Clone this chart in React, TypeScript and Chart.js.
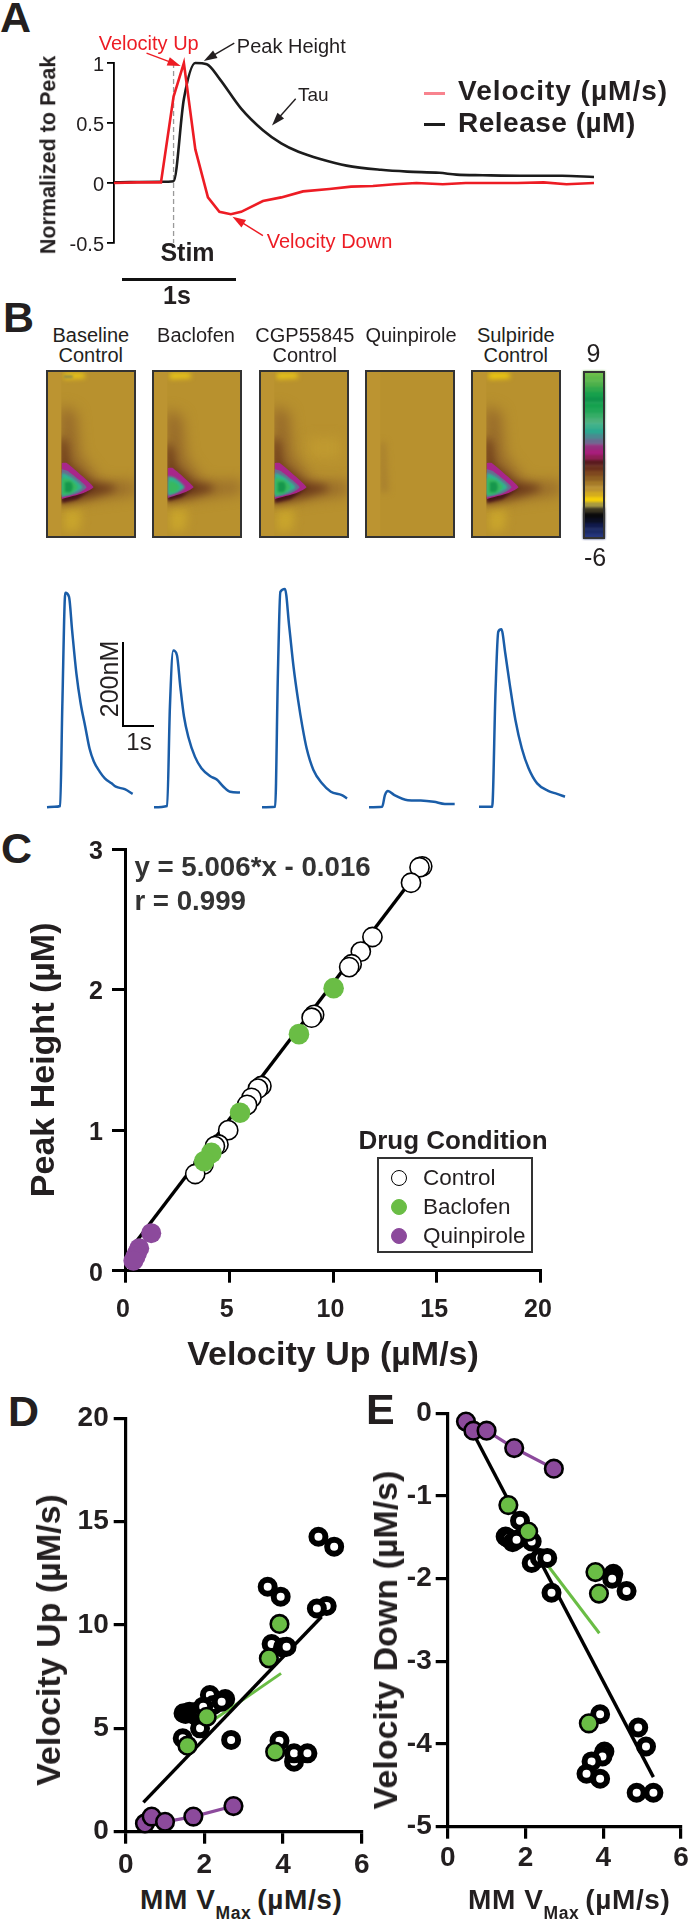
import React, { useEffect, useRef } from "react";
import { Chart, registerables } from "chart.js";

const FONT = '"Liberation Sans", Arial, sans-serif';
const INK = "#231f20";
const RED = "#ed1c24";
const PINK = "#f8838e";
const GREEN = "#6abd45";
const PURPLE = "#8c4a9c";
const BLUE = "#1a5da8";

/* ---------- Panel A ---------- */
const velocityTime = [0, 0.2, 0.41, 0.52, 0.61, 0.71, 0.82, 0.92, 1.02, 1.11, 1.3, 1.46, 1.65, 1.88, 2.07, 2.26, 2.45, 2.64, 2.87, 3.07, 3.52, 3.75, 3.95, 4.19];
const velocityValues = [0, 0.005, 0.005, 0.72, 1, 0.28, -0.12, -0.24, -0.26, -0.24, -0.15, -0.12, -0.07, -0.05, -0.03, -0.025, -0.01, 0, -0.01, 0, 0, 0.005, -0.01, 0];
const releaseTime = [0, 0.41, 0.52, 0.61, 0.71, 0.81, 0.92, 1.11, 1.3, 1.46, 1.61, 1.8, 2.03, 2.33, 2.56, 2.84, 2.99, 3.22, 3.6, 3.91, 4.19];
const releaseValues = [0.005, 0.01, 0.015, 0.7, 1, 0.99, 0.87, 0.62, 0.44, 0.33, 0.26, 0.2, 0.145, 0.11, 0.095, 0.085, 0.07, 0.065, 0.06, 0.06, 0.05];
const stimTime = [0.52, 0.52];
const stimRange = [1, -0.5];
const arrowsA = [
  { from: [0.284, 1.083], to: [0.582, 0.975], color: RED },
  { from: [1.05, 1.165], to: [0.784, 1.017], color: INK },
  { from: [1.586, 0.702], to: [1.379, 0.479], color: INK },
  { from: [1.3, -0.438], to: [1.034, -0.281], color: RED },
];

/* ---------- Panel B: heat maps ---------- */
const heatFull = [[0, 0], [91, 0], [91, 168], [0, 168]];
const heatStrip = [[0, 0], [15.5, 0], [15.5, 168], [0, 168]];
const topGlow = [[18, 3], [38, 3], [40, 8], [18, 9]];
const topSpot = [[18, 5.5], [27, 5.5], [27, 8], [18, 8]];
const bottomGlow = [[18, 138], [36, 138], [34, 160], [18, 162]];
const rightGlow = [[50, 68], [82, 68], [82, 88], [50, 88]];
const faintBand = [[15, 72], [21, 72], [24, 122], [15, 122]];
const hazeLarge = [[14, 36], [30, 42], [34, 85], [55, 112], [91, 112], [91, 124], [55, 128], [14, 134]];
const shadeLarge = [[14, 66], [21, 72], [24, 94], [46, 112], [70, 116], [70, 120], [46, 127], [14, 134]];
const maroonLarge = [[16, 124], [38, 122], [50, 117], [32, 129], [16, 133]];
const purpleLarge = [[16, 93], [21, 93], [48, 117], [38, 123], [16, 129]];
const slateLarge = [[16, 99], [22, 101], [41, 117], [33, 123], [16, 127.5]];
const tealLarge = [[16, 103], [24, 106], [37, 117], [30, 122], [16, 126]];
const greenLarge = [[16, 108], [25, 110], [32, 117], [26, 123], [16, 125]];
const coreLarge = [[19, 112], [25, 112], [27, 117], [25, 122], [19, 122]];
const hazeSmall = [[14, 40], [30, 46], [34, 88], [52, 112], [91, 112], [91, 122], [52, 127], [14, 132]];
const shadeSmall = [[14, 72], [21, 78], [24, 96], [42, 112], [62, 116], [62, 120], [42, 126], [14, 132]];
const maroonSmall = [[16, 124], [34, 122], [44, 117], [30, 127], [16, 131]];
const purpleSmall = [[16, 98], [21, 98], [42, 117], [34, 122], [16, 128]];
const tealSmall = [[16, 106], [23, 108], [33, 117], [27, 122], [16, 126]];
const greenSmall = [[17, 111], [23, 112], [28, 117], [24, 122], [17, 123]];

const heatLabels = [["Baseline", "Control"], ["Baclofen"], ["CGP55845", "Control"], ["Quinpirole"], ["Sulpiride", "Control"]];
const heatLeft = [46, 152.2, 258.8, 364.9, 471];
const heatCenters = [90.8, 196, 304.8, 411, 515.8];

const colorbarColors = ["#6cbf4a", "#5db94a", "#4db04a", "#2fa84c", "#17a04c", "#0f944a", "#15a14e", "#20a657", "#35ad66", "#4ab07a", "#3db08a", "#2ca890", "#4a8a90", "#6a6a90", "#96307f", "#a81e7c", "#8f1e55", "#5a1a1e", "#6a2f1c", "#7f481f", "#8e5f22", "#a67a28", "#bc9230", "#d4ac1e", "#f5cf08", "#a89a40", "#3a3520", "#0a0a0c", "#0b0f22", "#101a4c", "#1b2a66", "#25367e"];
const colorbarLevels = ["9", "8.5", "8", "7.5", "7", "6.5", "6", "5.5", "5", "4.5", "4", "3.5", "3", "2.5", "2", "1.5", "1", "0.5", "0", "-0.5", "-1", "-1.5", "-2", "-2.5", "-3", "-3.5", "-4", "-4.5", "-5", "-5.25", "-5.5", "-6"];

/* ---------- Panel B: release traces (s, nM) ---------- */
const traceTimes = [
  [0, 0.24, 0.43, 0.5, 0.6, 0.72, 0.82, 0.96, 1.1, 1.25, 1.39, 1.53, 1.72, 1.89, 2.11, 2.25, 2.54, 2.8],
  [0, 0.43, 0.52, 0.63, 0.75, 0.86, 0.98, 1.12, 1.34, 1.55, 1.84, 2.05, 2.27, 2.49, 2.81],
  [0, 0.43, 0.52, 0.6, 0.75, 0.89, 1.03, 1.18, 1.32, 1.46, 1.68, 1.96, 2.25, 2.61, 2.78],
  [0, 0.43, 0.52, 0.62, 0.83, 1.27, 1.69, 2.12, 2.48, 2.8],
  [0, 0.43, 0.54, 0.63, 0.73, 0.86, 1.0, 1.19, 1.4, 1.62, 1.9, 2.26, 2.55, 2.81],
];
const traceValues = [
  [1, 2, 4, 240, 512, 502, 423, 320, 248, 193, 141, 110, 86, 70, 58, 50, 44, 33],
  [1, 4, 240, 374, 363, 288, 217, 169, 121, 94, 75, 67, 50, 38, 36],
  [1, 2, 320, 514, 521, 431, 336, 256, 193, 141, 90, 58, 38, 30, 22],
  [1, 2, 30, 40, 30, 18, 17, 14, 9, 9],
  [2, 2, 278, 419, 425, 367, 296, 209, 141, 94, 58, 40, 33, 26],
];
const traceLeft = [47.4, 154.4, 262.3, 369.3, 479];

/* ---------- Panel C ---------- */
const controlUpC = [14.3, 14.17, 13.76, 11.9, 11.34, 10.9, 10.78, 9.09, 8.97, 6.55, 6.38, 6.07, 5.86, 4.95, 4.48, 4.31, 3.76, 3.36];
const controlPeakC = [2.877, 2.87, 2.76, 2.374, 2.27, 2.18, 2.16, 1.82, 1.8, 1.314, 1.295, 1.23, 1.18, 1.0, 0.898, 0.886, 0.755, 0.688];
const baclofenUpC = [10.03, 8.36, 5.52, 4.14, 3.79];
const baclofenPeakC = [2.01, 1.683, 1.124, 0.838, 0.779];
const quinpiroleUpC = [1.24, 0.66, 0.55, 0.48, 0.38];
const quinpirolePeakC = [0.267, 0.16, 0.124, 0.1, 0.071];
const fitUpC = [0.4, 14.2];
const fitPeakC = [0.184, 2.86];

/* ---------- Panel D ---------- */
const controlVmaxD = [4.9, 5.3, 3.61, 3.94, 5.11, 4.86, 3.71, 4.0, 4.09, 2.68, 3.91, 4.28, 4.28, 4.62, 1.45, 1.89, 1.47, 1.52, 1.59, 1.62, 1.7, 1.75, 1.81, 1.9, 2.14, 2.53, 2.23, 2.44, 1.97];
const controlUpD = [14.27, 13.79, 11.85, 11.37, 10.92, 10.8, 9.08, 8.92, 8.95, 4.44, 4.4, 3.39, 3.79, 3.79, 4.52, 5.0, 5.73, 5.7, 5.76, 5.8, 5.76, 5.65, 5.8, 5.8, 6.61, 6.42, 6.13, 6.29, 6.05];
const baclofenVmaxD = [3.91, 3.64, 2.06, 1.57, 3.8];
const baclofenUpD = [10.05, 8.39, 5.56, 4.16, 3.87];
const quinpiroleVmaxD = [0.49, 0.66, 1.0, 1.72, 2.74];
const quinpiroleUpD = [0.4, 0.73, 0.48, 0.73, 1.24];
const fitControlVmaxD = [0.45, 4.98];
const fitControlUpD = [1.42, 10.4];
const fitBaclofenVmaxD = [1.8, 3.95];
const fitBaclofenUpD = [4.84, 7.66];

/* ---------- Panel E ---------- */
const controlVmaxE = [1.86, 1.49, 1.56, 1.67, 1.77, 2.16, 2.16, 2.37, 2.56, 2.67, 4.26, 4.23, 4.6, 3.92, 4.9, 5.1, 4.03, 3.98, 3.7, 3.57, 3.92, 4.86, 5.29];
const controlDownE = [-1.3, -1.49, -1.51, -1.56, -1.53, -1.55, -1.81, -1.75, -1.75, -2.17, -1.94, -2.0, -2.15, -3.64, -3.8, -4.03, -4.09, -4.15, -4.21, -4.36, -4.42, -4.59, -4.59];
const baclofenVmaxE = [1.56, 2.07, 3.8, 3.89, 3.63];
const baclofenDownE = [-1.11, -1.43, -1.92, -2.18, -3.75];
const quinpiroleVmaxE = [0.47, 0.66, 1.0, 1.71, 2.73];
const quinpiroleDownE = [-0.1, -0.21, -0.21, -0.42, -0.67];
const fitControlVmaxE = [0.7, 5.29];
const fitControlDownE = [-0.28, -4.4];
const fitBaclofenVmaxE = [2.59, 3.9];
const fitBaclofenDownE = [-1.85, -2.66];

/* ---------- helpers ---------- */
const heatBlur = {
  id: "heatBlur",
  beforeDatasetDraw(chart: any, args: any) {
    const blur = chart.data.datasets[args.index]?.heatBlur;
    if (blur) {
      chart.ctx.save();
      chart.ctx.filter = `blur(${blur}px)`;
    }
  },
  afterDatasetDraw(chart: any, args: any) {
    if (chart.data.datasets[args.index]?.heatBlur) chart.ctx.restore();
  },
};
Chart.register(heatBlur, ...registerables);

const zip = (xs: number[], ys: number[]) => xs.map((x, i) => ({ x, y: ys[i] }));

type Box = { x: number; y: number; w: number; h: number };
type Area = { left: number; top: number; right: number; bottom: number };

const dropPadding = (s: any) => {
  s.paddingLeft = 0;
  s.paddingRight = 0;
  s.paddingTop = 0;
  s.paddingBottom = 0;
};

function pin(config: any, box: Box, area: Area) {
  const sc = config.options.scales;
  const showX = sc.x.display !== false;
  const showY = sc.y.display !== false;
  if (showX) sc.x.afterFit = (s: any) => { s.height = box.y + box.h - area.bottom; dropPadding(s); };
  if (showY) sc.y.afterFit = (s: any) => { s.width = area.left - box.x; dropPadding(s); };
  config.options.layout = {
    padding: {
      left: showY ? 0 : area.left - box.x,
      top: area.top - box.y,
      right: box.x + box.w - area.right,
      bottom: showX ? 0 : box.y + box.h - area.bottom,
    },
  };
  config.options.responsive = false;
  config.options.animation = false;
  config.options.devicePixelRatio = 1;
  config.options.events = [];
  config.options.plugins = { legend: { display: false }, tooltip: { enabled: false }, ...(config.options.plugins || {}) };
  return config;
}

function axis(min: number, max: number, step: number, size: number, weight: any, border: number, tick: number, pad: number, extra: any = {}, labelOffset = 0) {
  return {
    type: "linear",
    min,
    max,
    ticks: {
      stepSize: step,
      autoSkip: false,
      maxRotation: 0,
      padding: pad,
      labelOffset,
      color: INK,
      font: { family: FONT, size, weight },
      callback: (v: number) => String(v),
    },
    grid: { drawOnChartArea: false, drawTicks: true, tickLength: tick, tickWidth: border, tickColor: "#000", lineWidth: border, color: "#000" },
    border: { color: "#000", width: border },
    ...extra,
  };
}

function hidden(min: number, max: number, reverse = false) {
  return { type: "linear", display: false, min, max, reverse };
}

function lineSet(xs: number[], ys: number[], color: string, width: number, extra: any = {}) {
  return { type: "scatter", showLine: true, data: zip(xs, ys), borderColor: color, backgroundColor: color, borderWidth: width, pointRadius: 0, clip: false, tension: 0, ...extra };
}
function markerSet(xs: number[], ys: number[], fill: string, stroke: string, strokeWidth: number, radius: number) {
  return { type: "scatter", data: zip(xs, ys), backgroundColor: fill, borderColor: stroke, borderWidth: strokeWidth, pointRadius: radius, clip: false };
}

function ChartCanvas({ box, make, extra = {} }: { box: Box; make: () => any; extra?: any }) {
  const ref = useRef<HTMLCanvasElement | null>(null);
  useEffect(() => {
    const chart = new Chart(ref.current as HTMLCanvasElement, make());
    return () => chart.destroy();
  }, []);
  return <canvas ref={ref} width={box.w} height={box.h} style={{ position: "absolute", left: box.x, top: box.y, width: box.w, height: box.h, ...extra }} />;
}

function Txt({ x, y, size, bold, color = INK, center, rot, spacing = 0, children }: any) {
  return (
    <div
      style={{
        position: "absolute",
        left: x,
        top: y,
        fontFamily: FONT,
        fontSize: size,
        fontWeight: bold ? 700 : 400,
        color,
        lineHeight: 1,
        letterSpacing: spacing,
        whiteSpace: "nowrap",
        transform: `translate(${center || rot ? "-50%" : "0"},-50%)${rot ? " rotate(-90deg)" : ""}`,
      }}
    >
      {children}
    </div>
  );
}
function Rect({ x, y, w, h, color = "#000", extra = {} }: any) {
  return <div style={{ position: "absolute", left: x, top: y, width: w, height: h, background: color, ...extra }} />;
}

/* ---------- chart configs ---------- */
const boxA: Box = { x: 60, y: 30, w: 560, h: 240 };
const areaA: Area = { left: 114, top: 63, right: 594, bottom: 243 };
function configA() {
  const arrowPlugin = {
    id: "arrowsA",
    afterDatasetsDraw(chart: any) {
      const { ctx, scales } = chart;
      ctx.save();
      for (const a of arrowsA) {
        const x1 = scales.x.getPixelForValue(a.from[0]);
        const y1 = scales.y.getPixelForValue(a.from[1]);
        const x2 = scales.x.getPixelForValue(a.to[0]);
        const y2 = scales.y.getPixelForValue(a.to[1]);
        const ang = Math.atan2(y2 - y1, x2 - x1);
        ctx.strokeStyle = a.color;
        ctx.fillStyle = a.color;
        ctx.lineWidth = 1.4;
        ctx.beginPath();
        ctx.moveTo(x1, y1);
        ctx.lineTo(x2 - 8 * Math.cos(ang), y2 - 8 * Math.sin(ang));
        ctx.stroke();
        ctx.beginPath();
        ctx.moveTo(x2, y2);
        ctx.lineTo(x2 - 14 * Math.cos(ang - 0.32), y2 - 14 * Math.sin(ang - 0.32));
        ctx.lineTo(x2 - 14 * Math.cos(ang + 0.32), y2 - 14 * Math.sin(ang + 0.32));
        ctx.closePath();
        ctx.fill();
      }
      ctx.restore();
    },
  };
  return pin(
    {
      type: "scatter",
      data: {
        datasets: [
          lineSet(velocityTime, velocityValues, RED, 2.6),
          lineSet(releaseTime, releaseValues, "#1c1c1c", 2.6, { cubicInterpolationMode: "monotone" }),
          lineSet(stimTime, stimRange, "#9a9a9a", 1.3, { borderDash: [5, 3] }),
        ],
      },
      plugins: [arrowPlugin],
      options: {
        scales: {
          x: hidden(0, 4.19),
          y: axis(-0.5, 1, 0.5, 20, 400, 1.8, 7, 3, {}, 2),
        },
      },
    },
    boxA,
    areaA
  );
}

const heatColors = { base: "#b8912e", strip: "#bc9431" };
function heatLayer(points: number[][], color: string, blur = 0, tension = 0) {
  return { type: "line", parsing: true, data: points.map(([x, y]) => ({ x, y })), fill: "shape", backgroundColor: color, borderWidth: 0, borderColor: "transparent", pointRadius: 0, tension, clip: false, heatBlur: blur };
}
function heatLayersFor(i: number) {
  const layers: any[] = [heatLayer(heatFull, heatColors.base)];
  if (i === 3) {
    layers.push(heatLayer(faintBand, "#a9812e", 3));
    return layers;
  }
  layers.push(heatLayer(topGlow, i === 4 ? "#f3d00c" : "#ebc818", 2.5));
  if (i === 0) layers.push(heatLayer(topSpot, "#8d8a4a", 1));
  layers.push(heatLayer(bottomGlow, "#c9a52c", 5));
  if (i === 2) layers.push(heatLayer(rightGlow, "#c09a30", 6));
  const small = i === 1;
  layers.push(heatLayer(small ? hazeSmall : hazeLarge, "#96692a", 7));
  layers.push(heatLayer(small ? shadeSmall : shadeLarge, "#6e3c1b", 4));
  layers.push(heatLayer(small ? maroonSmall : maroonLarge, "#48151a", 1.4));
  layers.push(heatLayer(small ? purpleSmall : purpleLarge, "#a8268a", 0.7, 0.15));
  if (!small) layers.push(heatLayer(slateLarge, "#6a6a90", 0.7, 0.2));
  layers.push(heatLayer(small ? tealSmall : tealLarge, "#2fb48e", 0.8, 0.25));
  layers.push(heatLayer(small ? greenSmall : greenLarge, "#38b860", 0.9, 0.25));
  if (!small) layers.push(heatLayer(coreLarge, "#16974c", 1.2, 0.3));
  return layers;
}
function configHeat(i: number, box: Box) {
  const layers = heatLayersFor(i);
  layers.push(heatLayer(heatStrip, heatColors.strip));
  return pin(
    {
      type: "line",
      data: { datasets: layers.reverse() },
      options: { scales: { x: hidden(0, 91), y: hidden(0, 168, true) } },
    },
    box,
    { left: box.x, top: box.y, right: box.x + box.w, bottom: box.y + box.h }
  );
}

const boxBar: Box = { x: 583.3, y: 371, w: 22, h: 168 };
function configBar() {
  return pin(
    {
      type: "bar",
      data: {
        labels: colorbarLevels,
        datasets: [{ data: colorbarLevels.map(() => 1), backgroundColor: colorbarColors, borderColor: colorbarColors, borderWidth: 0.6, barPercentage: 1, categoryPercentage: 1 }],
      },
      options: {
        indexAxis: "y",
        scales: {
          x: hidden(0, 1),
          y: { type: "category", display: false },
        },
      },
    },
    boxBar,
    { left: boxBar.x, top: boxBar.y, right: boxBar.x + boxBar.w, bottom: boxBar.y + boxBar.h }
  );
}

function configTrace(i: number, box: Box) {
  return pin(
    {
      type: "scatter",
      data: { datasets: [lineSet(traceTimes[i], traceValues[i], BLUE, 2.5, { cubicInterpolationMode: "monotone" })] },
      options: { scales: { x: hidden(0, 3), y: hidden(0, 600) } },
    },
    box,
    { left: traceLeft[i], top: 555.7, right: traceLeft[i] + 91.8, bottom: 807.7 }
  );
}

const boxC: Box = { x: 0, y: 810, w: 600, h: 570 };
const areaC: Area = { left: 125.5, top: 849, right: 540.5, bottom: 1270.7 };
function configC() {
  const title = (text: string, pad: any) => ({ display: true, text, color: INK, font: { family: FONT, size: 34, weight: 700, lineHeight: 1.2 }, padding: pad });
  return pin(
    {
      type: "scatter",
      data: {
        datasets: [
          markerSet(quinpiroleUpC, quinpirolePeakC, PURPLE, PURPLE, 0, 10),
          markerSet(baclofenUpC, baclofenPeakC, GREEN, GREEN, 0, 10.3),
          markerSet(controlUpC, controlPeakC, "#fff", "#000", 1.6, 9.6),
          lineSet(fitUpC, fitPeakC, "#000", 3.4),
        ],
      },
      options: {
        scales: {
          x: axis(0, 20, 5, 25, 700, 3, 12, 12, { title: title("Velocity Up (µM/s)", { top: 0, bottom: 3.6 }) }, -2.5),
          y: axis(0, 3, 1, 25, 700, 3, 13.5, 9, { title: title("Peak Height (µM)", { top: 24.6, bottom: 0 }) }, 3),
        },
      },
    },
    boxC,
    areaC
  );
}

const boxD: Box = { x: 50, y: 1395, w: 330, h: 485 };
const areaD: Area = { left: 125.7, top: 1418.3, right: 361.7, bottom: 1831.7 };
function configD() {
  return pin(
    {
      type: "scatter",
      data: {
        datasets: [
          markerSet(baclofenVmaxD, baclofenUpD, GREEN, "#000", 2.6, 8.8),
          markerSet(quinpiroleVmaxD, quinpiroleUpD, PURPLE, "#000", 2.6, 8.8),
          lineSet(quinpiroleVmaxD, quinpiroleUpD, PURPLE, 3.2),
          markerSet(controlVmaxD, controlUpD, "#fff", "#000", 6, 7),
          lineSet(fitControlVmaxD, fitControlUpD, "#000", 3.4),
          lineSet(fitBaclofenVmaxD, fitBaclofenUpD, GREEN, 3),
        ],
      },
      options: {
        scales: {
          x: axis(0, 6, 2, 28, 700, 3.2, 12, 5),
          y: axis(0, 20, 5, 28, 700, 3.2, 12, 5),
        },
      },
    },
    boxD,
    areaD
  );
}

const boxE: Box = { x: 385, y: 1390, w: 330, h: 490 };
const areaE: Area = { left: 447.7, top: 1413.3, right: 681, bottom: 1826.7 };
function configE() {
  return pin(
    {
      type: "scatter",
      data: {
        datasets: [
          markerSet(baclofenVmaxE, baclofenDownE, GREEN, "#000", 2.6, 8.8),
          markerSet(quinpiroleVmaxE, quinpiroleDownE, PURPLE, "#000", 2.6, 8.8),
          lineSet(quinpiroleVmaxE, quinpiroleDownE, PURPLE, 3.2),
          markerSet(controlVmaxE, controlDownE, "#fff", "#000", 6, 7),
          lineSet(fitControlVmaxE, fitControlDownE, "#000", 3.4),
          lineSet(fitBaclofenVmaxE, fitBaclofenDownE, GREEN, 3),
        ],
      },
      options: {
        scales: {
          x: axis(0, 6, 2, 28, 700, 3.2, 12, 3),
          y: axis(-5, 0, 1, 28, 700, 3.2, 12, 4),
        },
      },
    },
    boxE,
    areaE
  );
}

function VmaxTitle({ x, y }: { x: number; y: number }) {
  return (
    <Txt x={x} y={y} size={28} bold spacing={0.6}>
      MM V
      <span style={{ fontSize: 17.5, position: "relative", top: 10, marginRight: 6 }}>Max</span>
      (µM/s)
    </Txt>
  );
}

export default function App() {
  return (
    <div style={{ position: "absolute", left: 0, top: 0, width: 688, height: 1920, overflow: "hidden", background: "#fff" }}>
      {/* Panel A */}
      <Txt x={0} y={17} size={43} bold>A</Txt>
      <ChartCanvas box={boxA} make={configA} />
      <Txt x={49} y={155} size={21.5} bold rot>Normalized to Peak</Txt>
      <Txt x={98.7} y={43} size={20} color={RED}>Velocity Up</Txt>
      <Txt x={236.8} y={46} size={20} color={INK}>Peak Height</Txt>
      <Txt x={298} y={94} size={19} color={INK}>Tau</Txt>
      <Txt x={266.7} y={241} size={20} color={RED}>Velocity Down</Txt>
      <Txt x={187.5} y={252} size={25} bold center>Stim</Txt>
      <Rect x={121.5} y={278} w={114.5} h={3} color="#111" />
      <Txt x={177} y={295} size={25} bold center>1s</Txt>
      <Rect x={424} y={91.8} w={21} h={3} color={PINK} />
      <Txt x={458} y={90.7} size={28} bold spacing={1}>Velocity (µM/s)</Txt>
      <Rect x={424} y={122.8} w={21} h={3} color="#1c1c1c" />
      <Txt x={458} y={123.3} size={28} bold spacing={0.5}>Release (µM)</Txt>

      {/* Panel B */}
      <Txt x={3} y={317} size={43} bold>B</Txt>
      {heatLabels.map((lines, i) => (
        <React.Fragment key={i}>
          {lines.map((t, j) => (
            <Txt key={j} x={heatCenters[i]} y={335 + j * 20} size={20} center>{t}</Txt>
          ))}
          <ChartCanvas box={{ x: heatLeft[i], y: 370, w: 90, h: 168 }} make={() => configHeat(i, { x: heatLeft[i], y: 370, w: 90, h: 168 })} />
          <div style={{ position: "absolute", left: heatLeft[i], top: 370, width: 90, height: 168, boxSizing: "border-box", border: "2.5px solid #333" }} />
        </React.Fragment>
      ))}
      <ChartCanvas box={boxBar} make={configBar} extra={{ filter: "blur(1px)" }} />
      <div style={{ position: "absolute", left: boxBar.x, top: boxBar.y, width: boxBar.w, height: boxBar.h, boxSizing: "border-box", border: "2.5px solid #333" }} />
      <Txt x={593.4} y={353} size={25} center>9</Txt>
      <Txt x={595} y={557} size={25} center>-6</Txt>

      {traceLeft.map((x, i) => {
        const b = { x: x - 4, y: 545, w: 104, h: 275 };
        return <ChartCanvas key={i} box={b} make={() => configTrace(i, b)} />;
      })}
      <Rect x={122} y={641.7} w={2.4} h={85} />
      <Rect x={122} y={724.7} w={32.4} h={2.4} />
      <Txt x={108.8} y={679} size={25} rot>200nM</Txt>
      <Txt x={139} y={742} size={24} center>1s</Txt>

      {/* Panel C */}
      <Txt x={1} y={848} size={43} bold>C</Txt>
      <ChartCanvas box={boxC} make={configC} />
      <Txt x={134.4} y={867} size={27.7} bold color="#333">y = 5.006*x - 0.016</Txt>
      <Txt x={134.4} y={901} size={27.7} bold color="#333">r = 0.999</Txt>
      <Txt x={453} y={1140} size={26} bold center>Drug Condition</Txt>
      <div style={{ position: "absolute", left: 377.4, top: 1157, width: 156, height: 96, boxSizing: "border-box", border: "2.4px solid #333" }} />
      {[["Control", "#fff", "#000"], ["Baclofen", GREEN, GREEN], ["Quinpirole", PURPLE, PURPLE]].map(([t, fill, stroke], i) => (
        <React.Fragment key={t}>
          <div style={{ position: "absolute", left: 390.6, top: 1170 + i * 29, width: 16, height: 16, boxSizing: "border-box", borderRadius: 8, background: fill, border: `1.6px solid ${stroke}` }} />
          <Txt x={423} y={1178 + i * 29} size={22.5}>{t}</Txt>
        </React.Fragment>
      ))}

      {/* Panel D */}
      <Txt x={8} y={1411} size={43} bold>D</Txt>
      <ChartCanvas box={boxD} make={configD} />
      <Txt x={48} y={1640} size={34} bold rot>Velocity Up (µM/s)</Txt>
      <VmaxTitle x={140} y={1900} />

      {/* Panel E */}
      <Txt x={366} y={1409} size={43} bold>E</Txt>
      <ChartCanvas box={boxE} make={configE} />
      <Txt x={385} y={1640} size={34} bold rot>Velocity Down (µM/s)</Txt>
      <VmaxTitle x={468} y={1900} />
    </div>
  );
}
